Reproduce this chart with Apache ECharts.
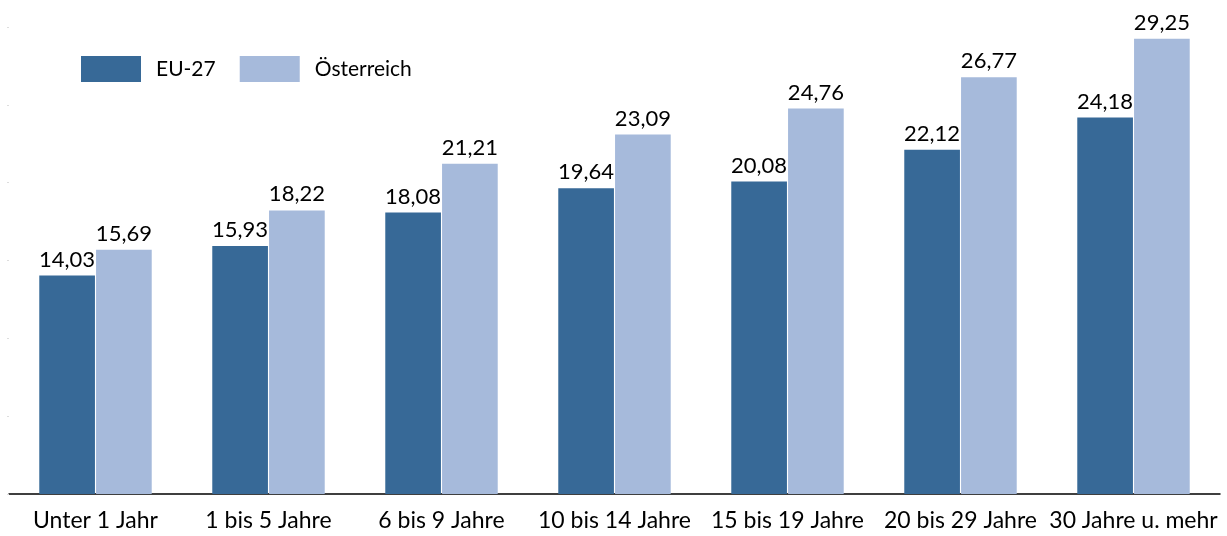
<!DOCTYPE html>
<html lang="de">
<head>
	<meta charset="UTF-8">
	<title>EU-27 / Österreich</title>
	<style>
		html,body{background-color:#fff;height:100%;overflow:hidden;margin:0;padding:0;}
		#main{width:1227px;height:536px;}
	</style>
</head>
<body>
	<div id="main"></div>
	<script src="https://cdn.jsdelivr.net/npm/echarts@6/dist/echarts.min.js"></script>
	<script>
		var categories = ['Unter 1 Jahr', '1 bis 5 Jahre', '6 bis 9 Jahre', '10 bis 14 Jahre', '15 bis 19 Jahre', '20 bis 29 Jahre', '30 Jahre u. mehr'];
		var euValues = [14.03, 15.93, 18.08, 19.64, 20.08, 22.12, 24.18];
		var atValues = [15.69, 18.22, 21.21, 23.09, 24.76, 26.77, 29.25];
		var seriesNames = ['EU-27', 'Österreich'];

		var fontName = 'Lato';
		var chart = echarts.init(document.getElementById('main'));

		function fmt(p) {
			return p.value.toFixed(2).replace('.', ',');
		}
		function barSeries(name, data, color) {
			return {
				name: name,
				type: 'bar',
				data: data,
				barGap: '2%',
				barCategoryGap: '35%',
				itemStyle: {color: color},
				label: {
					show: true,
					position: 'top',
					distance: 5,
					formatter: fmt,
					color: '#000',
					fontFamily: fontName,
					fontSize: 22
				}
			};
		}

		var option = {
			animation: false,
			legend: {
				data: seriesNames,
				left: 81,
				top: 56,
				padding: 0,
				itemWidth: 60,
				itemHeight: 26,
				itemGap: 24,
				icon: 'rect',
				textStyle: {color: '#000', fontFamily: fontName, fontSize: 21, padding: [0, 0, 0, 10]}
			},
			grid: {left: 9, right: 7, top: 27, bottom: 42, containLabel: false},
			xAxis: {
				type: 'category',
				data: categories,
				axisLine: {lineStyle: {color: '#000', width: 1.5}},
				axisTick: {show: false},
				axisLabel: {color: '#000', fontFamily: fontName, fontSize: 23, margin: 15, interval: 0}
			},
			yAxis: {
				type: 'value',
				min: 0,
				max: 30,
				interval: 5,
				axisLine: {show: false},
				axisTick: {show: true, length: 2, lineStyle: {color: '#ddd'}},
				axisLabel: {show: false},
				splitLine: {show: false}
			},
			series: [
				barSeries(seriesNames[0], euValues, '#376997'),
				barSeries(seriesNames[1], atValues, '#a6badb')
			]
		};
		chart.setOption(option);
	</script>
</body>
</html>
